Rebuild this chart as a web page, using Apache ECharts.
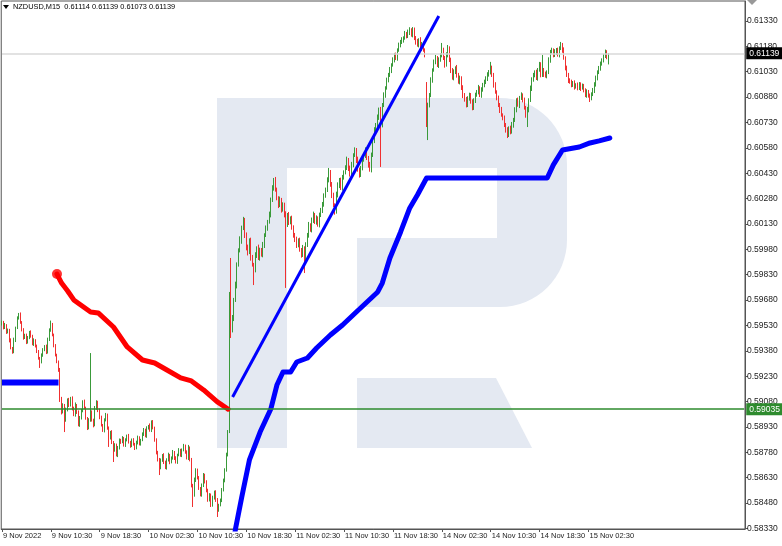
<!DOCTYPE html>
<html><head><meta charset="utf-8">
<script src="https://cdn.jsdelivr.net/npm/echarts@6/dist/echarts.min.js"></script>
<style>html,body{margin:0;padding:0;background:#fff}#c{width:782px;height:546px}</style>
</head><body><div id="c"></div>
<script>
// ---- data (prices in points, 1e-5) ----
const closes = [
59551,59515,59533,59492,59503,59444,59397,59373,59444,59515,
59574,59598,59551,59503,59456,59474,59432,59456,59492,59468,
59421,59444,59409,59373,59338,59314,59356,59385,59409,59373,
59444,59503,59539,59474,59415,59356,59314,59267,59090,59019,
59060,58971,59030,59090,59060,59101,59042,59001,59060,59019,
58942,58983,59030,59078,59042,58983,58924,58971,59019,58971,
58942,59042,59078,59030,58983,58942,58912,58971,59001,58924,
58865,58900,58841,58794,58824,58764,58806,58853,58841,58865,
58824,58853,58877,58841,58818,58853,58830,58806,58841,58865,
58830,58853,58889,58912,58877,58924,58936,58912,58960,58924,
58853,58782,58735,58688,58735,58764,58723,58688,58735,58764,
58723,58747,58782,58747,58723,58764,58794,58764,58794,58818,
58782,58747,58806,58735,58587,58528,58617,58676,58629,58569,
58528,58587,58646,58605,58558,58498,58528,58469,58510,58546,
58498,58439,58469,58498,58558,58617,58676,58764,58900,59681,
59503,59574,59681,59769,59888,59976,60035,60106,60154,60065,
59988,59964,60035,59929,59888,59858,59947,59988,59929,59976,
59947,60006,60065,60106,60142,60183,60272,60343,60390,60331,
60284,60242,60272,60213,60242,60183,60124,60183,60142,60165,
60106,60065,60035,60006,60035,59976,59947,59988,59917,60006,
60065,60124,60094,60154,60183,60142,60165,60124,60183,60213,
60242,60301,60331,60390,60437,60360,60301,60242,60201,60301,
60360,60390,60343,60402,60437,60461,60508,60461,60420,60479,
60538,60567,60508,60449,60420,60461,60508,60538,60567,60520,
60479,60449,60538,60626,60686,60715,60757,60804,60715,60833,
60892,60934,60981,61011,61040,61070,61099,61129,61111,61158,
61188,61206,61218,61229,61253,61241,61265,61277,61247,61277,
61229,61206,61188,61218,61170,61194,61158,61129,60745,60833,
60892,60981,61040,61088,61111,61070,61099,61129,61158,61111,
61070,61129,61170,61099,61040,60993,61028,61052,61011,60969,
60993,60934,60892,60863,60833,60875,60892,60851,60816,60863,
60892,60910,60934,60892,60922,60952,60969,60993,61011,61028,
61052,61011,60952,60910,60875,60833,60804,60774,60757,60715,
60686,60656,60697,60674,60715,60745,60804,60863,60833,60875,
60892,60863,60816,60774,60804,60863,60934,60981,61011,61028,
60993,61040,61070,61011,61040,61017,61005,61028,61099,61147,
61158,61129,61147,61158,61129,61170,61188,61158,61111,61052,
61011,60981,60969,60952,60963,60940,60952,60934,60957,60934,
60946,60922,60892,60910,60887,60875,60898,60922,60952,60993,
61028,61052,61076,61099,61123,61147,61114,61139
];
const firstOpen = 59540;
const gapOpens = {278: 60969};
const wickHi = [
8,6,12,5,9,7,10,6,14,8,10,6,9,5,11,7,8,12,6,9,
7,10,5,8,12,6,9,11,5,8,14,10,20,6,8,5,7,9,12,18,
10,6,14,9,12,7,10,8,15,6,9,12,7,10,14,8,6,11,348,9,
8,12,10,7,9,14,6,10,12,8,9,7,11,6,10,8,12,9,7,11,
6,10,8,12,7,9,11,6,8,14,10,7,9,12,8,10,6,15,9,11,
8,10,7,12,9,6,11,8,10,14,7,9,12,6,10,8,11,7,9,12,
8,10,18,9,12,7,14,10,8,11,6,9,12,8,10,7,11,9,14,8,
10,12,7,9,11,8,10,14,12,47,248,18,12,20,15,10,22,14,18,12,
15,20,10,14,18,12,16,10,20,14,12,18,10,15,12,20,14,16,12,18,
14,10,20,12,16,14,22,12,18,10,14,16,12,20,10,14,12,18,10,16,
12,18,10,14,20,12,16,10,14,12,18,10,14,16,24,12,18,14,10,20,
16,12,14,18,10,16,20,12,14,18,10,16,12,20,14,12,18,10,16,14,
12,18,14,10,16,12,20,14,18,12,16,10,14,12,18,10,16,12,14,10,
14,12,16,10,18,12,14,16,10,17,14,12,18,10,16,12,14,10,0,14,
12,16,10,14,18,12,16,10,42,14,12,16,18,10,14,12,16,10,18,12,
14,10,16,12,18,10,14,12,16,10,14,12,18,10,16,12,14,10,16,12,
36,14,12,16,10,14,12,18,10,14,12,16,10,14,18,12,16,10,14,12,
16,10,14,12,18,10,14,16,12,10,14,12,18,16,89,12,14,10,16,12,
14,10,16,12,14,10,18,12,16,10,14,12,10,14,12,16,10,14,12,10,
14,12,10,16,12,14,10,12,16,14,10,12,14,10,12,14,10,0
];
const wickLo = [
10,8,6,12,9,14,8,10,7,12,6,9,11,8,10,6,12,9,7,10,
8,12,9,6,10,35,8,11,7,12,9,6,10,8,14,9,7,11,12,15,
9,71,10,8,12,9,14,7,10,12,8,11,9,13,7,10,12,8,10,9,
14,8,10,12,7,9,11,14,8,10,53,9,12,71,10,8,12,9,11,7,
10,12,8,9,11,7,10,12,8,14,9,10,7,12,8,11,9,10,12,8,
10,14,9,42,8,11,12,7,10,9,13,8,10,12,9,11,7,10,12,8,
10,9,12,8,14,71,10,12,9,11,8,10,12,9,14,10,8,12,10,9,
11,41,10,8,12,9,14,10,8,6,47,14,18,12,20,10,14,22,12,18,
14,20,12,16,10,89,14,18,12,16,10,14,18,12,16,10,14,12,16,10,
14,18,12,16,10,14,372,12,18,14,10,16,12,18,14,10,16,12,77,14,
12,16,10,14,18,12,16,10,14,12,18,10,16,12,14,10,18,12,16,10,
14,18,12,16,10,14,12,18,10,16,14,12,18,10,16,12,14,10,18,12,
16,10,14,12,18,10,14,12,248,14,12,16,10,14,12,18,10,14,12,16,
10,14,12,16,10,14,12,18,10,14,12,16,10,14,12,18,10,14,42,119,
14,12,16,10,14,12,18,10,14,12,16,10,14,12,18,10,14,12,16,10,
14,12,18,10,14,12,16,10,14,12,18,10,14,12,16,10,14,12,18,10,
14,12,16,10,14,12,18,10,14,12,16,18,12,14,10,16,12,14,10,18,
12,14,10,16,71,14,12,18,10,14,12,16,10,14,12,18,10,14,12,16,
10,14,12,18,10,14,12,16,10,14,12,18,10,14,12,16,10,14,12,18,
10,14,12,16,10,24,14,12,18,10,14,12,16,10,14,12,10,41
];
const xTickLabels = ['9 Nov 2022','9 Nov 10:30','9 Nov 18:30','10 Nov 02:30','10 Nov 10:30','10 Nov 18:30','11 Nov 02:30','11 Nov 10:30','11 Nov 18:30','14 Nov 02:30','14 Nov 10:30','14 Nov 18:30','15 Nov 02:30'];
const barsPerLabel = 32;
const yTicks = [0.58330,0.58480,0.58630,0.58780,0.58930,0.59080,0.59230,0.59380,0.59530,0.59680,0.59830,0.59980,0.60130,0.60280,0.60430,0.60580,0.60730,0.60880,0.61030,0.61180,0.61330];
const redIdx = [36,39,43,47,58,63,73,82,92,100,108,117,124,132,141,147,148];
const redVal = [0.59834,0.59781,0.59734,0.59681,0.59610,0.59604,0.59521,0.59403,0.59326,0.59308,0.59267,0.59220,0.59202,0.59149,0.59078,0.59042,0.59036];
const blueIdx = [151,153,157,162,169,176,180,184,189,193,200,206,215,223,232,239,246,249,254,261,267,272,278,357,361,367,378,385,391,398];
const blueVal = [0.58220,0.58333,0.58516,0.58735,0.58900,0.59036,0.59178,0.59255,0.59255,0.59314,0.59338,0.59397,0.59474,0.59533,0.59610,0.59669,0.59728,0.59781,0.59929,0.60083,0.60225,0.60301,0.60402,0.60402,0.60479,0.60567,0.60585,0.60609,0.60621,0.60638];
const blueLeftIdx = [0,37];
const blueLeftVal = [0.59193,0.59193];
const arrowFrom = [151,0.59107], arrowTo = [286,0.61359];
const greenLevel = 0.59035;
const bidLevel = 0.61139;
const header = 'NZDUSD,M15  0.61114 0.61139 0.61073 0.61139';
const totalSlots = 487;

// ---- build ----
const ohlc = closes.map((c,i)=>{
  const o = gapOpens[i] !== undefined ? gapOpens[i] : (i===0 ? firstOpen : closes[i-1]);
  const h = Math.max(o,c)+wickHi[i], l = Math.min(o,c)-wickLo[i];
  return [o/1e5, c/1e5, l/1e5, h/1e5];
});
const cats = [];
for (let i=0;i<totalSlots;i++){
  cats.push(i%barsPerLabel===0 && i/barsPerLabel < xTickLabels.length ? xTickLabels[i/barsPerLabel] : '');
}
const pairs=(a,b)=>a.map((x,i)=>[x,b[i]]);
const showLbl=(idx,val)=>val!=='';
const F = 'Liberation Sans, Arial, sans-serif';
const wm = '#e4e9f2';
const wmEl = (type, shape)=>({type, z:-10, silent:true, shape, style:{fill:wm}});
const lvlLabel = (v,bg)=>({show:true,position:'end',distance:2,formatter:v.toFixed(5),backgroundColor:bg,color:'#fff',fontSize:8.5,fontFamily:F,padding:[2,3,1,3]});
const hLine = (v,color,bg)=>[{coord:[0,v],lineStyle:{color:color,width:1.5,type:'solid'},label:lvlLabel(v,bg)},{coord:[totalSlots-1,v]}];

const chart = echarts.init(document.getElementById('c'), null, {renderer:'canvas'});
chart.setOption({
  animation:false,
  backgroundColor:'#ffffff',
  grid:{left:1,right:37,top:1,bottom:17,show:true,borderColor:'#555',borderWidth:1,backgroundColor:'transparent'},
  graphic:[
    wmEl('rect',{x:217,y:98,width:70,height:350}),
    wmEl('rect',{x:287,y:98,width:214,height:70}),
    wmEl('rect',{x:497,y:164,width:70,height:77}),
    wmEl('rect',{x:357,y:238,width:144,height:69}),
    wmEl('sector',{cx:500,cy:165,r:67,r0:0,startAngle:-Math.PI/2,endAngle:0,clockwise:true}),
    wmEl('sector',{cx:500,cy:240,r:67,r0:0,startAngle:0,endAngle:Math.PI/2,clockwise:true}),
    wmEl('polygon',{points:[[357,378],[496,378],[532,448],[357,448]]}),
    {type:'polygon',z:50,silent:true,shape:{points:[[3,5],[9,5],[6,9]]},style:{fill:'#000'}},
    {type:'text',z:50,left:13,top:3,style:{text:header,font:'7.4px '+F,fill:'#000'}},
    {type:'polygon',z:50,silent:true,shape:{points:[[747,0],[757,0],[752,5]]},style:{fill:'#999'}}
  ],
  xAxis:{type:'category',data:cats,boundaryGap:true,
    axisLine:{show:true,lineStyle:{color:'#555',width:1}},
    axisTick:{show:true,alignWithLabel:true,interval:showLbl,length:3,lineStyle:{color:'#555'}},
    axisLabel:{interval:showLbl,align:'left',margin:3,fontSize:7.5,fontFamily:F,color:'#222',padding:[0,0,0,1]},
    splitLine:{show:false}},
  yAxis:{type:'value',position:'right',min:0.58327,max:0.61448,scale:true,
    axisLine:{show:true,lineStyle:{color:'#555'}},
    axisTick:{show:true,customValues:yTicks,length:3,lineStyle:{color:'#555'}},
    axisLabel:{customValues:yTicks,formatter:v=>v.toFixed(5),margin:2,fontSize:8.5,fontFamily:F,color:'#222'},
    splitLine:{show:false}},
  series:[
    {type:'candlestick',data:ohlc,barWidth:1.2,z:3,
      itemStyle:{color:'#55a855',color0:'#f25050',borderColor:'#3a9a3a',borderColor0:'#f03030',borderWidth:1}},
    {type:'line',data:[],z:2,
      markLine:{silent:true,symbol:'none',
        data:[hLine(greenLevel,'#2e8b2e','#2e8b2e'), hLine(bidLevel,'#d8d8d8','#000')]}},
    {type:'line',data:pairs(redIdx,redVal),symbol:'none',z:4,lineStyle:{color:'#ff0000',width:5,cap:'round',join:'round'}},
    {type:'scatter',data:[[redIdx[0],redVal[0]]],symbol:'circle',symbolSize:10,z:4,itemStyle:{color:'#ff0000'}},
    {type:'line',data:pairs(blueIdx,blueVal),symbol:'none',z:4,lineStyle:{color:'#0000ff',width:5,cap:'round',join:'round'}},
    {type:'line',data:pairs(blueLeftIdx,blueLeftVal),symbol:'none',z:4,lineStyle:{color:'#0000ff',width:6}},
    {type:'line',data:[],z:5,
      markLine:{silent:true,symbol:['none','arrow'],symbolSize:[0,10],
        lineStyle:{color:'#0000ff',width:3,type:'solid'},label:{show:false},
        data:[[{coord:arrowFrom},{coord:arrowTo}]]}}
  ]
});
</script></body></html>
